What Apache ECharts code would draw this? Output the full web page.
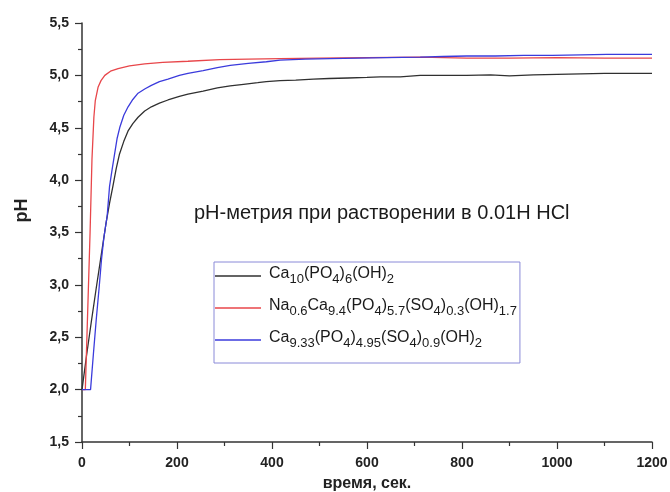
<!DOCTYPE html>
<html>
<head>
<meta charset="utf-8">
<script src="https://cdn.jsdelivr.net/npm/echarts@6/dist/echarts.min.js"></script>
<style>
  html, body { margin: 0; padding: 0; background: #fff; }
  #chart { width: 670px; height: 492px; }
</style>
</head>
<body>
<div id="chart"></div>
<script>
// pH vs time (s) for three apatite samples dissolving in 0.01 N HCl

// Ca10(PO4)6(OH)2
const timeCa10 = [0, 5, 10, 20, 30, 41, 51, 58, 65, 72, 79, 88, 97, 107, 118, 132, 146, 163, 181, 205, 223, 255, 285, 312, 340, 370, 388, 417, 450, 487, 520, 560, 600, 628, 670, 712, 760, 810, 860, 900, 950, 1000, 1050, 1100, 1150, 1200];
const phCa10 = [2.0, 2.17, 2.34, 2.66, 2.97, 3.30, 3.60, 3.78, 3.94, 4.11, 4.25, 4.37, 4.47, 4.54, 4.60, 4.66, 4.70, 4.735, 4.765, 4.80, 4.82, 4.85, 4.88, 4.90, 4.915, 4.93, 4.94, 4.95, 4.955, 4.965, 4.97, 4.975, 4.98, 4.985, 4.985, 5.0, 5.0, 5.0, 5.005, 4.995, 5.005, 5.01, 5.015, 5.02, 5.02, 5.02];

// Na0.6Ca9.4(PO4)5.7(SO4)0.3(OH)1.7
const timeNa = [0, 7, 12, 17, 21, 25, 28, 34, 40, 48, 60, 76, 100, 132, 170, 223, 290, 350, 417, 500, 600, 712, 810, 900, 1000, 1100, 1200];
const phNa = [2.0, 2.0, 2.75, 3.5, 4.2, 4.6, 4.76, 4.89, 4.95, 5.0, 5.04, 5.065, 5.09, 5.11, 5.125, 5.135, 5.15, 5.155, 5.16, 5.165, 5.17, 5.175, 5.165, 5.165, 5.17, 5.165, 5.165];

// Ca9.33(PO4)4.95(SO4)0.9(OH)2
const timeCa933 = [0, 18, 24, 30, 36, 41, 46, 53, 58, 64, 69, 74, 80, 88, 97, 107, 118, 132, 146, 163, 181, 205, 223, 255, 285, 312, 350, 388, 417, 470, 522, 580, 640, 712, 760, 810, 870, 930, 990, 1050, 1105, 1150, 1200];
const phCa933 = [2.0, 2.0, 2.34, 2.67, 2.97, 3.24, 3.45, 3.66, 3.94, 4.12, 4.26, 4.40, 4.51, 4.62, 4.70, 4.77, 4.83, 4.87, 4.905, 4.94, 4.965, 5.0, 5.02, 5.045, 5.075, 5.095, 5.115, 5.13, 5.145, 5.155, 5.16, 5.165, 5.17, 5.175, 5.18, 5.185, 5.185, 5.19, 5.19, 5.195, 5.2, 5.2, 5.2];

const seriesNames = ['Ca10(PO4)6(OH)2', 'Na0.6Ca9.4(PO4)5.7(SO4)0.3(OH)1.7', 'Ca9.33(PO4)4.95(SO4)0.9(OH)2'];
const seriesColors = ['#303030', '#e8464a', '#3b3bdc'];

// legend labels with subscripts as rich-text tokens
const legendLabels = {
  'Ca10(PO4)6(OH)2': '{f|Ca}{s|10}{m|(PO}{s|4}{m|)}{s|6}{m|(OH)}{s|2}',
  'Na0.6Ca9.4(PO4)5.7(SO4)0.3(OH)1.7': '{f|Na}{s|0.6}{m|Ca}{s|9.4}{m|(PO}{s|4}{m|)}{s|5.7}{m|(SO}{s|4}{m|)}{s|0.3}{m|(OH)}{s|1.7}',
  'Ca9.33(PO4)4.95(SO4)0.9(OH)2': '{f|Ca}{s|9.33}{m|(PO}{s|4}{m|)}{s|4.95}{m|(SO}{s|4}{m|)}{s|0.9}{m|(OH)}{s|2}'
};

const titleText = 'pH-метрия при растворении в 0.01H HCl';
const xAxisTitle = 'время, сек.';
const yAxisTitle = 'pH';

const FONT = '"Liberation Sans", Arial, sans-serif';

function pairs(xs, ys) {
  return xs.map((x, i) => [x, ys[i]]);
}

const seriesData = [pairs(timeCa10, phCa10), pairs(timeNa, phNa), pairs(timeCa933, phCa933)];

const chart = echarts.init(document.getElementById('chart'), null, { renderer: 'canvas' });

const axisCommon = {
  axisLine: { show: true, lineStyle: { color: '#333', width: 1.5 } },
  axisTick: { show: true, inside: false, length: 7, lineStyle: { color: '#333', width: 1.2 } },
  minorTick: { show: true, splitNumber: 2, length: 4, lineStyle: { color: '#333', width: 1.2 } },
  splitLine: { show: false },
  minorSplitLine: { show: false }
};

chart.setOption({
  animation: false,
  backgroundColor: '#fff',
  title: {
    text: titleText,
    left: 194,
    top: 203,
    padding: 0,
    textStyle: { fontFamily: FONT, fontSize: 20, fontWeight: 'normal', color: '#1a1a1a' }
  },
  grid: { left: 82, right: 18, top: 23, bottom: 50, containLabel: false, outerBoundsMode: 'none' },
  xAxis: Object.assign({
    type: 'value',
    min: 0,
    max: 1200,
    interval: 200,
    name: xAxisTitle,
    nameLocation: 'middle',
    nameGap: 34,
    nameTextStyle: { fontFamily: FONT, fontSize: 16, fontWeight: 'bold', color: '#222' },
    axisLabel: {
      fontFamily: FONT, fontSize: 14, fontWeight: 'bold', color: '#222', margin: 14,
      formatter: v => String(v)
    }
  }, axisCommon),
  yAxis: Object.assign({
    type: 'value',
    min: 1.5,
    max: 5.5,
    interval: 0.5,
    name: yAxisTitle,
    nameLocation: 'middle',
    nameGap: 51,
    nameTextStyle: { fontFamily: FONT, fontSize: 18, fontWeight: 'bold', color: '#222', padding: [0, 0, 0, 44] },
    axisLabel: {
      fontFamily: FONT, fontSize: 14, fontWeight: 'bold', color: '#222', margin: 13,
      formatter: v => v.toFixed(1).replace('.', ',')
    }
  }, axisCommon),
  legend: {
    orient: 'vertical',
    left: 214,
    top: 262,
    padding: [4, 3, 13, 1],
    itemGap: 12,
    itemWidth: 46,
    itemHeight: 1.4,
    icon: 'rect',
    borderColor: '#8a8ad8',
    borderWidth: 1,
    data: seriesNames,
    formatter: name => legendLabels[name],
    textStyle: {
      fontFamily: FONT,
      color: '#1a1a1a',
      rich: {
        f: { fontFamily: FONT, fontSize: 16, color: '#1a1a1a', verticalAlign: 'top', padding: [0, 0, 0, 3] },
        m: { fontFamily: FONT, fontSize: 16, color: '#1a1a1a', verticalAlign: 'top' },
        s: { fontFamily: FONT, fontSize: 13, color: '#1a1a1a', verticalAlign: 'top', padding: [7, 0, 0, 0] }
      }
    }
  },
  series: seriesNames.map((name, i) => ({
    name: name,
    type: 'line',
    data: seriesData[i],
    symbol: 'none',
    smooth: false,
    lineStyle: { color: seriesColors[i], width: 1.3 },
    itemStyle: { color: seriesColors[i] }
  }))
});
</script>
</body>
</html>
